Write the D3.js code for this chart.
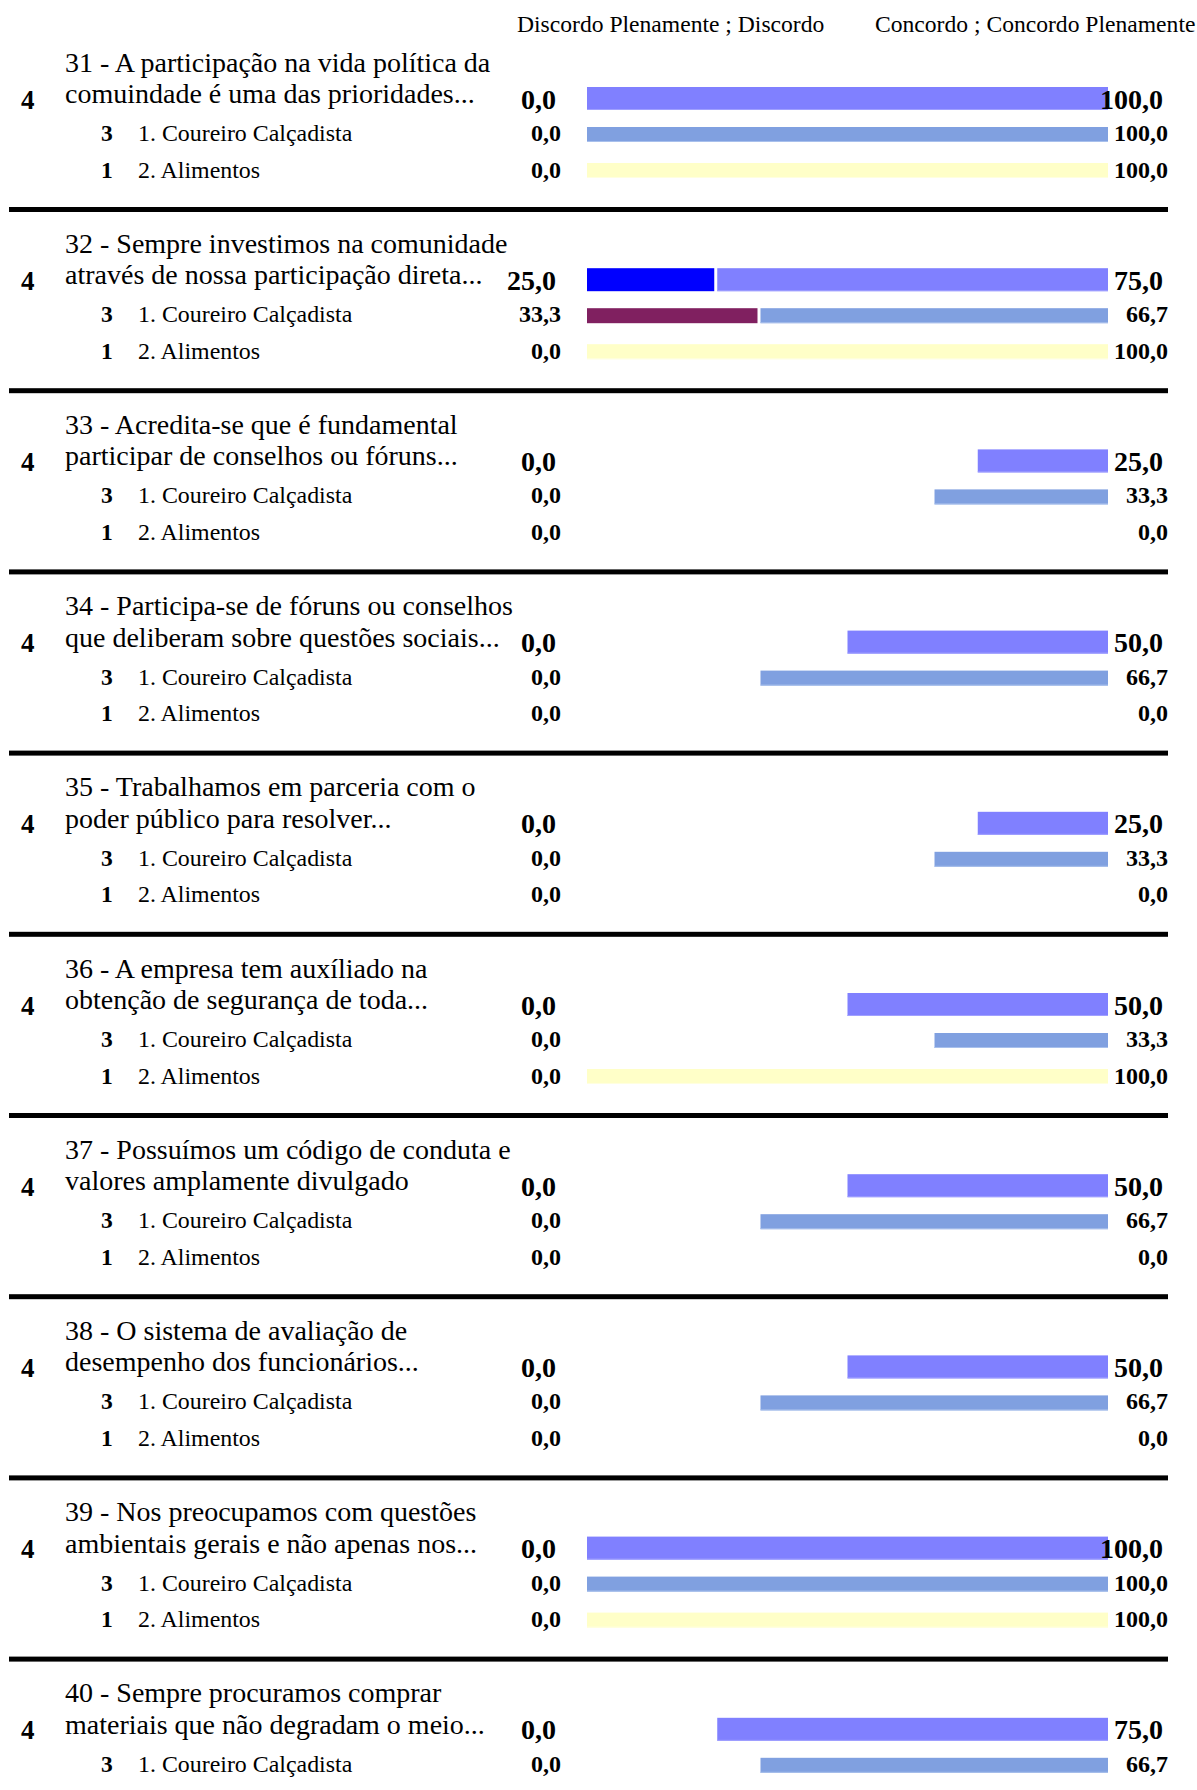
<!DOCTYPE html>
<html>
<head>
<meta charset="utf-8">
<script src="https://cdn.jsdelivr.net/npm/d3@7"></script>
<style>
  html, body { margin: 0; padding: 0; background: #fff; }
  svg { display: block; font-family: "Liberation Serif", "Times New Roman", serif; }
</style>
</head>
<body>
<svg id="chart" width="1197" height="1790"></svg>
<script>
// Survey items: two-line question titles
const questionLine1 = [
  "31 - A participação na vida política da",
  "32 - Sempre investimos na comunidade",
  "33 - Acredita-se que é fundamental",
  "34 - Participa-se de fóruns ou conselhos",
  "35 - Trabalhamos em parceria com o",
  "36 - A empresa tem auxíliado na",
  "37 - Possuímos um código de conduta e",
  "38 - O sistema de avaliação de",
  "39 - Nos preocupamos com questões",
  "40 - Sempre procuramos comprar"
];
const questionLine2 = [
  "comuindade é uma das prioridades...",
  "através de nossa participação direta...",
  "participar de conselhos ou fóruns...",
  "que deliberam sobre questões sociais...",
  "poder público para resolver...",
  "obtenção de segurança de toda...",
  "valores amplamente divulgado",
  "desempenho dos funcionários...",
  "ambientais gerais e não apenas nos...",
  "materiais que não degradam o meio..."
];

// Sub-groups (sectors) and respondent counts
const groups = ["Total", "1. Coureiro Calçadista", "2. Alimentos"];
const groupCounts = [4, 3, 1];

// Percent disagreeing (Discordo Plenamente ; Discordo) per item, per group
const disagreeTotal = [0.0, 25.0, 0.0, 0.0, 0.0, 0.0, 0.0, 0.0, 0.0, 0.0];
const disagreeCoureiro = [0.0, 33.3, 0.0, 0.0, 0.0, 0.0, 0.0, 0.0, 0.0, 0.0];
const disagreeAlimentos = [0.0, 0.0, 0.0, 0.0, 0.0, 0.0, 0.0, 0.0, 0.0];

// Percent agreeing (Concordo ; Concordo Plenamente) per item, per group
const agreeTotal = [100.0, 75.0, 25.0, 50.0, 25.0, 50.0, 50.0, 50.0, 100.0, 75.0];
const agreeCoureiro = [100.0, 66.7, 33.3, 66.7, 33.3, 33.3, 66.7, 66.7, 100.0, 66.7];
const agreeAlimentos = [100.0, 100.0, 0.0, 0.0, 0.0, 100.0, 0.0, 0.0, 100.0];

const headerLeft = "Discordo Plenamente ; Discordo";
const headerRight = "Concordo ; Concordo Plenamente";

const disagreeSeries = [disagreeTotal, disagreeCoureiro, disagreeAlimentos];
const agreeSeries = [agreeTotal, agreeCoureiro, agreeAlimentos];
const agreeColors = ["#8080ff", "#80a0e0", "#ffffc8"];
const agreeEdge = ["#a0a0ff", "#a8c0ec", "#ffffe0"];
const disagreeColors = ["#0000ff", "#802060", "#ffffc8"];

const svg = d3.select("#chart");
const fmt = v => d3.format(".1f")(v).replace(".", ",");

// Layout
const barLeft = 587, barRight = 1108;
const w = d3.scaleLinear().domain([0, 100]).range([0, barRight - barLeft]);
const blockStep = 181.2;
const yBlock = d3.scaleLinear().domain([0, 1]).range([0, blockStep]);

// Row geometry inside a block: bar top, bar height, text baseline
const rowBarTop = [87, 127, 163];
const rowBarH = [23, 15, 15];
const rowBase = [108.5, 141, 177.5];

// Column headers
svg.append("text").attr("x", 517).attr("y", 32).attr("font-size", 23.6).text(headerLeft);
svg.append("text").attr("x", 875).attr("y", 32).attr("font-size", 23.6).text(headerRight);

const blocks = svg.selectAll("g.block")
  .data(d3.range(questionLine1.length))
  .join("g")
  .attr("class", "block")
  .attr("transform", i => `translate(0,${yBlock(i)})`);

blocks.each(function(i) {
  const g = d3.select(this);
  g.append("text").attr("x", 65).attr("y", 71.5).attr("font-size", 28).text(questionLine1[i]);
  g.append("text").attr("x", 65).attr("y", 103).attr("font-size", 28).text(questionLine2[i]);

  groups.forEach((grp, r) => {
    const dv = disagreeSeries[r][i];
    const av = agreeSeries[r][i];
    if (av === undefined) return;
    const main = r === 0;

    // count of respondents
    g.append("text")
      .attr("x", main ? 21 : 101)
      .attr("y", rowBase[r])
      .attr("font-size", main ? 27 : 23.5)
      .attr("font-weight", "bold")
      .text(groupCounts[r]);

    if (!main) {
      g.append("text").attr("x", 138).attr("y", rowBase[r]).attr("font-size", 23.9).text(grp);
    }

    // agree bar, anchored on the right edge
    if (av > 0) {
      g.append("rect")
        .attr("x", barRight - w(av)).attr("y", rowBarTop[r])
        .attr("width", w(av)).attr("height", rowBarH[r])
        .attr("fill", agreeColors[r]);
      g.append("rect")
        .attr("x", barRight - w(av)).attr("y", rowBarTop[r] + rowBarH[r] - 1)
        .attr("width", w(av)).attr("height", 1)
        .attr("fill", agreeEdge[r]);
    }
    // disagree bar, anchored on the left edge, with a small gap
    if (dv > 0) {
      g.append("rect")
        .attr("x", barLeft).attr("y", rowBarTop[r])
        .attr("width", Math.max(0, w(dv) - 3)).attr("height", rowBarH[r])
        .attr("fill", disagreeColors[r]);
    }

    // value labels
    g.append("text")
      .attr("x", main ? 556 : 561).attr("y", rowBase[r])
      .attr("text-anchor", "end")
      .attr("font-size", main ? 28 : 24)
      .attr("font-weight", "bold")
      .text(fmt(dv));
    g.append("text")
      .attr("x", main ? 1163 : 1168).attr("y", rowBase[r])
      .attr("text-anchor", "end")
      .attr("font-size", main ? 28 : 24)
      .attr("font-weight", "bold")
      .text(fmt(av));
  });

  // block separator
  g.append("rect")
    .attr("x", 9).attr("y", 207)
    .attr("width", 1159).attr("height", 5)
    .attr("fill", "#000");
});
</script>
</body>
</html>
